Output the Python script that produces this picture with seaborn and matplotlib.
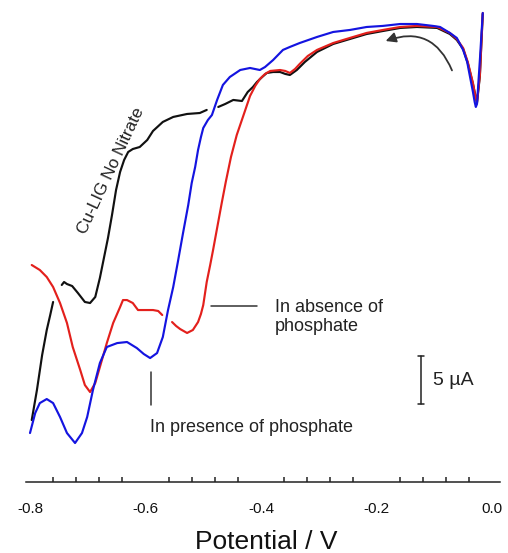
import numpy as np
import pandas as pd
import seaborn as sns
import matplotlib
matplotlib.use("Agg")
import matplotlib.pyplot as plt
from matplotlib.patches import FancyArrowPatch
from matplotlib.ticker import MultipleLocator, FormatStrFormatter

nan = np.nan

# ---- data: potential (V) and current (uA); NaN marks a break in the trace ----
black_v = [-0.797, -0.788, -0.779, -0.771, -0.765, -0.760, nan,
           -0.745, -0.741, -0.736, -0.727, -0.717, -0.705, -0.696, -0.687, -0.679, -0.672,
           -0.665, -0.658, -0.651, -0.644, -0.637, -0.630, -0.622, -0.610, -0.597,
           -0.587, -0.570, -0.552, -0.528, -0.506, -0.494, nan,
           -0.474, -0.462, -0.448, -0.433, -0.423, -0.414, -0.407, -0.398, -0.390,
           -0.379, -0.367, -0.358, -0.350, -0.338, -0.324, -0.303, -0.275, -0.246,
           -0.217, -0.189, -0.159, -0.130, -0.095, -0.073, -0.061, -0.050, -0.042,
           -0.033, -0.026, -0.021, -0.016]
black_i = [-41.15, -38.02, -34.38, -31.77, -30.21, -28.85, nan,
           -27.08, -26.77, -26.98, -27.19, -27.92, -28.85, -28.96, -28.33, -26.35, -24.27,
           -22.19, -19.79, -17.19, -15.31, -14.06, -13.23, -12.92, -12.71, -11.98,
           -11.04, -10.10, -9.58, -9.27, -9.17, -8.85, nan,
           -8.54, -8.23, -7.81, -7.92, -6.98, -6.46, -5.94, -5.42, -5.00,
           -4.90, -4.90, -5.10, -5.21, -4.69, -3.85, -2.81, -1.98, -1.46,
           -0.94, -0.63, -0.31, -0.21, -0.31, -0.94, -1.56, -2.50, -3.96,
           -6.15, -8.13, -5.31, 1.15]

red_v = [-0.797, -0.783, -0.771, -0.760, -0.748, -0.736, -0.726, -0.713, -0.705,
         -0.696, -0.687, -0.679, -0.667, -0.656, -0.644, -0.639, -0.632, -0.622,
         -0.613, -0.601, -0.587, -0.578, -0.571, nan,
         -0.554, -0.547, -0.540, -0.528, -0.518, -0.509, -0.504, -0.500, -0.494, -0.488, -0.483,
         -0.476, -0.468, -0.461, -0.452, -0.442, -0.429, -0.419, -0.410, -0.402,
         -0.393, -0.384, -0.367, -0.358, -0.350, -0.341, -0.333, -0.319, -0.303,
         -0.275, -0.246, -0.217, -0.189, -0.159, -0.130, -0.095, -0.073, -0.061,
         -0.050, -0.042, -0.033, -0.029, -0.026, -0.021, -0.016]
red_i = [-25.00, -25.52, -26.25, -27.29, -28.96, -31.04, -33.54, -35.94, -37.50,
         -38.23, -37.29, -35.63, -33.13, -31.04, -29.38, -28.65, -28.65, -28.96,
         -29.69, -29.69, -29.69, -29.79, -30.21, nan,
         -30.94, -31.35, -31.67, -32.08, -31.77, -30.94, -30.10, -29.17, -26.77, -25.00, -23.44,
         -21.15, -18.54, -16.35, -13.75, -11.46, -9.17, -7.40, -6.35, -5.63,
         -5.10, -4.79, -4.69, -4.79, -5.00, -4.58, -4.06, -3.23, -2.60,
         -1.88, -1.35, -0.83, -0.52, -0.21, -0.10, -0.21, -0.83, -1.46,
         -2.40, -3.85, -6.04, -7.40, -8.02, -5.21, 1.25]

blue_v = [-0.800, -0.791, -0.783, -0.771, -0.760, -0.748, -0.736, -0.722, -0.710,
          -0.701, -0.691, -0.679, -0.667, -0.649, -0.632, -0.615, -0.603, -0.592,
          -0.580, -0.570, -0.561, -0.552, -0.544, -0.535, -0.526, -0.520, -0.514,
          -0.509, -0.504, -0.500, -0.492, -0.485, -0.476, -0.466, -0.454, -0.436, -0.419,
          -0.402, -0.393, -0.379, -0.362, -0.350, -0.333, -0.303, -0.275, -0.246,
          -0.217, -0.189, -0.159, -0.130, -0.102, -0.090, -0.073, -0.061, -0.050,
          -0.043, -0.038, -0.033, -0.030, -0.028, -0.026, -0.021, -0.016]
blue_i = [-42.50, -40.42, -39.38, -38.96, -39.38, -40.83, -42.50, -43.54, -42.50,
          -40.83, -38.02, -35.21, -33.54, -33.13, -33.02, -33.65, -34.27, -34.69,
          -34.17, -32.50, -29.69, -27.29, -24.69, -21.67, -18.75, -16.46, -14.79,
          -13.02, -11.67, -10.73, -9.90, -9.38, -7.81, -6.25, -5.42, -4.69, -4.48,
          -4.69, -4.38, -3.65, -2.60, -2.29, -1.88, -1.25, -0.73, -0.52,
          -0.21, -0.10, 0.10, 0.10, -0.10, -0.21, -0.83, -1.35, -2.60,
          -3.85, -5.42, -6.98, -8.02, -8.54, -8.23, -3.65, 1.25]

x_ticks = [-0.8, -0.6, -0.4, -0.2, 0.0]
x_label = "Potential / V"
label_nitrate = "Cu-LIG No Nitrate"
label_absence = "In absence of\nphosphate"
label_presence = "In presence of phosphate"
scale_label = "5 \u00b5A"
scale_value = 5.0

sns.set_theme(style="white")
plt.rcParams["font.family"] = ["Liberation Sans", "DejaVu Sans"]
plt.rcParams["axes.unicode_minus"] = False


def to_frame(v, i, name):
    rows = []
    seg = 0
    for a, b in zip(v, i):
        if np.isnan(a):
            seg += 1
            continue
        rows.append((a, b, name, f"{name}{seg}"))
    return pd.DataFrame(rows, columns=["V", "I", "curve", "seg"])


W, H = 508, 553
fig = plt.figure(figsize=(W / 100, H / 100), dpi=100)
ax = fig.add_axes([26 / W, 1 - 482 / H, 474 / W, 482 / H])

colors = {"black": "#111111", "red": "#e3201c", "blue": "#1414e0"}
for name, v, i in [("black", black_v, black_i), ("red", red_v, red_i), ("blue", blue_v, blue_i)]:
    df = to_frame(v, i, name)
    sns.lineplot(data=df, x="V", y="I", units="seg", estimator=None, sort=False,
                 color=colors[name], lw=1.55, ax=ax, legend=False)
for line in ax.lines:
    line.set_solid_joinstyle("round")

ax.set_xlim(-0.80693, 0.01385)
ax.set_ylim(-47.6, 2.6)

for s in ["left", "right", "top"]:
    ax.spines[s].set_visible(False)
ax.spines["bottom"].set_linewidth(1.1)
ax.spines["bottom"].set_color("#222222")
ax.set_yticks([])
ax.set_xticks(x_ticks)
ax.xaxis.set_major_formatter(FormatStrFormatter("%.1f"))
ax.xaxis.set_minor_locator(MultipleLocator(0.04))
ax.tick_params(axis="x", which="major", direction="out", length=4.5, width=1.1,
               color="#222222", labelsize=11, pad=10, labelcolor="#111111")
ax.tick_params(axis="x", which="minor", direction="in", length=3.6, width=1.1,
               color="#222222", bottom=True)
ax.set_xlabel("")
ax.set_ylabel("")
fig.text(266 / W, 1 - 542 / H, x_label, ha="center", va="center", fontsize=19, color="#111111")

# annotations
ax.text(-0.6604, -15.18, label_nitrate, rotation=65, ha="center", va="center",
        rotation_mode="anchor", fontsize=12.4, color="#222222")
ax.plot([-0.4866, -0.4069], [-29.27, -29.27], color="#333333", lw=1.1)
ax.text(-0.376, -30.45, label_absence, ha="left", va="center", fontsize=13,
        linespacing=1.15, color="#222222")
ax.plot([-0.5905, -0.5905], [-36.15, -39.58], color="#333333", lw=1.1)
ax.text(-0.5922, -41.88, label_presence, ha="left", va="center", fontsize=13, color="#222222")

# scale bar
sb_x, sb_top = -0.1229, -34.48
ax.plot([sb_x, sb_x], [sb_top, sb_top - scale_value], color="#222222", lw=1.1)
for yy in (sb_top, sb_top - scale_value):
    ax.plot([sb_x - 0.006, sb_x + 0.006], [yy, yy], color="#222222", lw=1.1)
ax.text(-0.1022, sb_top - scale_value / 2, scale_label, ha="left", va="center",
        fontsize=14, color="#222222")

# scan direction arrow
arrow = FancyArrowPatch((-0.0675, -5.0), (-0.1887, -1.77),
                        connectionstyle="arc3,rad=0.5", arrowstyle="-|>",
                        mutation_scale=15, lw=1.3, color="#333333")
ax.add_patch(arrow)

fig.savefig("out.png", dpi=100)
